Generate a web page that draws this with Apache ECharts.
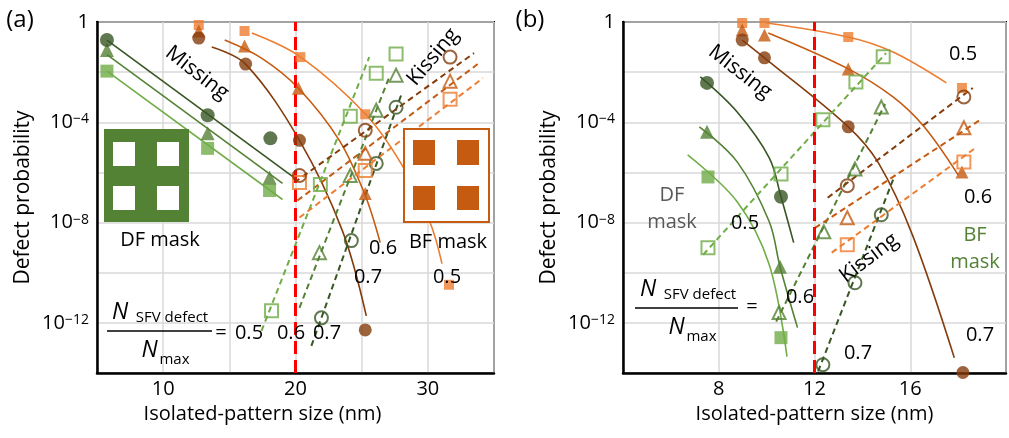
<!DOCTYPE html>
<html><head><meta charset="utf-8">
<script src="https://cdn.jsdelivr.net/npm/echarts/dist/echarts.min.js"></script>
<style>html,body{margin:0;padding:0;background:#fff}#c{width:1009px;height:438px}</style>
</head><body><div id="c"></div>
<script>
// ---- Data (x: isolated-pattern size in nm, y: log10 of defect probability) ----
// Tick labels
const aXTickLabels = [10, 20, 30];
const bXTickLabels = [8, 12, 16];
const yTickExponents = [0, -4, -8, -12];
const ratios = ['0.5', '0.6', '0.7'];
// Critical size (red dashed line)
const aThreshold = [20];
const bThreshold = [12];

// Panel (a) DF mask, missing (markers and straight fits)
const aDfMiss05 = [[5.75,-1.96],[13.36,-5.04],[18.04,-6.72]];
const aDfMiss06 = [[5.75,-1.12],[13.36,-4.44],[18.04,-6.2]];
const aDfMiss07 = [[5.75,-0.72],[13.36,-3.72],[18.1,-4.64]];
const aDfMissFit05 = [[5.75,-1.96],[19.02,-7.08]];
const aDfMissFit06 = [[5.75,-1.3],[19.02,-6.44]];
const aDfMissFit07 = [[5.75,-0.72],[19.77,-6.16]];
// Panel (a) BF mask, missing
const aBfMiss05 = [[12.69,-0.12],[16.15,-0.36],[20.37,-1.4],[25.27,-3.68],[31.6,-10.48]];
const aBfMiss06 = [[12.69,-0.36],[16.15,-0.96],[20.22,-2.64],[25.27,-6.84]];
const aBfMiss07 = [[12.69,-0.64],[16.23,-1.68],[20.3,-4.72],[25.27,-12.28]];
const aBfMissFit05 = [[16.7,-0.44],[20.4,-1.4],[25.3,-3.68],[28.06,-5.72],[30.17,-8.0],[31.07,-9.64]];
const aBfMissFit06 = [[14.65,-0.72],[17.43,-1.44],[20.22,-2.64],[23.31,-4.72],[25.27,-6.92],[26.4,-8.8]];
const aBfMissFit07 = [[13.67,-1.0],[16.23,-1.68],[20.3,-4.72],[23.54,-8.32],[25.35,-11.72]];
// Panel (a) DF mask, kissing
const aDfKiss05 = [[18.19,-11.52],[21.88,-6.48],[24.14,-3.76],[26.1,-2.04],[27.6,-1.28]];
const aDfKiss06 = [[21.81,-9.2],[24.14,-6.12],[26.1,-3.52],[27.6,-2.12]];
const aDfKiss07 = [[21.96,-11.8],[24.22,-8.72],[26.1,-5.64],[27.6,-3.4]];
const aDfKissFit05 = [[17.43,-12.32],[25.57,-1.4]];
const aDfKissFit06 = [[20.3,-11.4],[27.08,-2.2]];
const aDfKissFit07 = [[21.2,-12.92],[27.98,-2.92]];
// Panel (a) BF mask, kissing
const aBfKiss05 = [[20.3,-6.4],[25.27,-5.92],[31.68,-3.08]];
const aBfKiss06 = [[25.27,-5.24],[31.68,-2.36]];
const aBfKiss07 = [[20.3,-6.12],[25.27,-4.32],[31.68,-1.4]];
const aBfKissFit05 = [[20.3,-7.8],[34.16,-2.24]];
const aBfKissFit06 = [[20.15,-7.12],[33.86,-1.64]];
const aBfKissFit07 = [[19.92,-6.4],[33.49,-1.24]];

// Panel (b) DF mask, missing
const bDfMiss05 = [[7.55,-6.18],[10.6,-12.59]];
const bDfMiss06 = [[7.51,-4.38],[10.56,-9.76]];
const bDfMiss07 = [[7.51,-2.43],[10.6,-6.97]];
const bDfMissFit05 = [[6.7,-5.3],[8.77,-7.17],[10.11,-9.68],[10.85,-13.35]];
const bDfMissFit06 = [[7.19,-4.18],[8.77,-5.58],[10.11,-7.97],[10.56,-9.76],[11.29,-12.19]];
const bDfMissFit07 = [[7.23,-2.19],[8.77,-3.59],[10.11,-5.42],[10.6,-6.97],[11.13,-8.8]];
// Panel (b) DF mask, kissing
const bDfKiss05 = [[7.55,-9.0],[10.6,-6.06],[12.35,-3.9],[13.73,-2.39],[14.87,-1.39]];
const bDfKiss06 = [[10.52,-11.59],[12.39,-8.37],[13.69,-5.86],[14.79,-3.39]];
const bDfKiss07 = [[12.35,-13.67],[13.69,-10.4],[14.79,-7.69]];
const bDfKissFit05 = [[7.35,-9.28],[14.99,-1.24]];
const bDfKissFit06 = [[10.4,-11.95],[14.95,-3.27]];
const bDfKissFit07 = [[12.15,-13.94],[15.36,-6.1]];
// Panel (b) BF mask, missing
const bBfMiss05 = [[8.98,-0.04],[9.91,-0.04],[13.41,-0.6],[18.16,-2.63]];
const bBfMiss06 = [[8.98,-0.32],[9.91,-0.52],[13.41,-1.87],[18.16,-5.98]];
const bBfMiss07 = [[8.98,-0.72],[9.91,-1.43],[13.41,-4.18],[18.2,-13.98]];
const bBfMissFit05 = [[9.99,-0.04],[13.41,-0.6],[15.28,-1.2],[17.51,-2.43]];
const bBfMissFit06 = [[10.07,-0.44],[13.41,-1.87],[15.28,-2.99],[16.58,-4.18],[18.0,-6.1]];
const bBfMissFit07 = [[8.98,-0.72],[9.91,-1.43],[13.41,-4.18],[14.67,-5.62],[16.09,-8.49],[17.84,-13.39]];
// Panel (b) BF mask, kissing
const bBfKiss05 = [[13.37,-8.88],[18.24,-5.58]];
const bBfKiss06 = [[13.37,-7.81],[18.24,-4.22]];
const bBfKiss07 = [[13.37,-6.53],[18.24,-2.99]];
const bBfKissFit05 = [[12.72,-9.2],[18.73,-5.02]];
const bBfKissFit06 = [[12.02,-8.21],[18.93,-3.9]];
const bBfKissFit07 = [[12.55,-7.01],[18.61,-2.63]];

// ---- Styles ----
const C = {
  g5:'#70AD47', g6:'#548235', g7:'#375623',
  o5:'#ED7D31', o6:'#C55A11', o7:'#843C0C', red:'#FF0000'
};
const FONT = '"Open Sans", "Noto Sans", sans-serif';

function fitLine(data, gi, color, dashed, smooth) {
  return { type:'line', xAxisIndex:gi, yAxisIndex:gi, data, showSymbol:false, symbol:'none',
    smooth: smooth ? 0.35 : false, silent:true, z:2,
    lineStyle:{ color, width: dashed ? 2 : 1.6, type: dashed ? [6,4] : 'solid' } };
}
function marks(data, gi, symbol, color, filled, size) {
  return { type:'scatter', xAxisIndex:gi, yAxisIndex:gi, data, symbol, symbolSize:size, silent:true, z:4,
    itemStyle: filled ? { color, borderWidth:0 } : { color:'rgba(255,255,255,0)', borderColor:color, borderWidth:2 } };
}
function threshold(vals, gi) {
  return { type:'scatter', xAxisIndex:gi, yAxisIndex:gi, data:[], silent:true,
    markLine:{ silent:true, symbol:'none', label:{show:false}, z:3,
      lineStyle:{ color:C.red, width:3, type:[13,6] },
      data: vals.map(v => ({ xAxis:v })) } };
}
function yLabel(v) {
  if (!yTickExponents.includes(v)) return '';
  if (v === 0) return '{b|1}';
  return '{b|10}{s|\u2212' + Math.abs(v) + '}';
}
function yAxis(gi) {
  return { type:'value', gridIndex:gi, min:-14, max:0, interval:2,
    name:'Defect probability', nameLocation:'middle', nameGap:63,
    nameTextStyle:{ fontFamily:FONT, fontSize:21, color:'#000' },
    axisLine:{ show:true, lineStyle:{ color:'#000', width:2.5 } }, axisTick:{show:false},
    splitLine:{ show:true, lineStyle:{ color:'#D9D9D9', width:1.5 } },
    axisLabel:{ formatter:yLabel, margin:8, color:'#000',
      rich:{ b:{ fontFamily:FONT, fontSize:20, color:'#000' }, s:{ fontFamily:FONT, fontSize:14, color:'#000', verticalAlign:'top' } } } };
}
function xAxis(gi, min, max, interval, labels, padRight) {
  return { type:'value', gridIndex:gi, min, max, interval,
    name:'Isolated-pattern size (nm)', nameLocation:'middle', nameGap:31,
    nameTextStyle:{ fontFamily:FONT, fontSize:20, color:'#000', padding:[0,padRight,0,0] },
    axisLine:{ show:true, onZero:false, lineStyle:{ color:'#000', width:2.5 } }, axisTick:{show:false},
    splitLine:{ show:true, lineStyle:{ color:'#D9D9D9', width:1.5 } },
    axisLabel:{ fontFamily:FONT, fontSize:20, color:'#000', margin:6,
      formatter: v => labels.includes(v) ? String(v) : '' } };
}

const series = [
  threshold(aThreshold, 0), threshold(bThreshold, 1),
  // (a) fits
  fitLine(aDfMissFit05,0,C.g5,false,false), fitLine(aDfMissFit06,0,C.g6,false,false), fitLine(aDfMissFit07,0,C.g7,false,false),
  fitLine(aBfMissFit05,0,C.o5,false,true), fitLine(aBfMissFit06,0,C.o6,false,true), fitLine(aBfMissFit07,0,C.o7,false,true),
  fitLine(aDfKissFit05,0,C.g5,true,false), fitLine(aDfKissFit06,0,C.g6,true,false), fitLine(aDfKissFit07,0,C.g7,true,false),
  fitLine(aBfKissFit05,0,C.o5,true,false), fitLine(aBfKissFit06,0,C.o6,true,false), fitLine(aBfKissFit07,0,C.o7,true,false),
  // (a) markers
  marks(aDfMiss05,0,'rect',C.g5,true,13), marks(aDfMiss06,0,'triangle',C.g6,true,14), marks(aDfMiss07,0,'circle',C.g7,true,14),
  marks(aBfMiss05,0,'rect',C.o5,true,10), marks(aBfMiss06,0,'triangle',C.o6,true,13), marks(aBfMiss07,0,'circle',C.o7,true,13),
  marks(aDfKiss05,0,'rect',C.g5,false,13), marks(aDfKiss06,0,'triangle',C.g6,false,13), marks(aDfKiss07,0,'circle',C.g7,false,13),
  marks(aBfKiss05,0,'rect',C.o5,false,13), marks(aBfKiss06,0,'triangle',C.o6,false,13), marks(aBfKiss07,0,'circle',C.o7,false,13),
  // (b) fits
  fitLine(bDfMissFit05,1,C.g5,false,true), fitLine(bDfMissFit06,1,C.g6,false,true), fitLine(bDfMissFit07,1,C.g7,false,true),
  fitLine(bBfMissFit05,1,C.o5,false,true), fitLine(bBfMissFit06,1,C.o6,false,true), fitLine(bBfMissFit07,1,C.o7,false,true),
  fitLine(bDfKissFit05,1,C.g5,true,false), fitLine(bDfKissFit06,1,C.g6,true,false), fitLine(bDfKissFit07,1,C.g7,true,false),
  fitLine(bBfKissFit05,1,C.o5,true,false), fitLine(bBfKissFit06,1,C.o6,true,false), fitLine(bBfKissFit07,1,C.o7,true,false),
  // (b) markers
  marks(bDfMiss05,1,'rect',C.g5,true,13), marks(bDfMiss06,1,'triangle',C.g6,true,14), marks(bDfMiss07,1,'circle',C.g7,true,14),
  marks(bBfMiss05,1,'rect',C.o5,true,10), marks(bBfMiss06,1,'triangle',C.o6,true,13), marks(bBfMiss07,1,'circle',C.o7,true,13),
  marks(bDfKiss05,1,'rect',C.g5,false,13), marks(bDfKiss06,1,'triangle',C.g6,false,13), marks(bDfKiss07,1,'circle',C.g7,false,13),
  marks(bBfKiss05,1,'rect',C.o5,false,13), marks(bBfKiss06,1,'triangle',C.o6,false,13), marks(bBfKiss07,1,'circle',C.o7,false,13)
];

// ---- Annotations ----
function txt(t, x, y, size, opts) {
  opts = opts || {};
  return { type:'text', x, y, rotation: opts.rot || 0, z:100, silent:true,
    style:{ text:t, fill: opts.color || '#000', align: opts.align || 'center', verticalAlign:'middle',
      font: (opts.italic ? 'italic ' : '') + size + 'px ' + FONT } };
}
function rect(x, y, w, h, fill, stroke, lw) {
  return { type:'rect', z:90, silent:true, shape:{ x, y, width:w, height:h },
    style:{ fill: fill, stroke: stroke || null, lineWidth: lw || 0 } };
}
function fraction(x0, x1, yLine) {
  const cx = (x0 + x1) / 2;
  return [
    { type:'line', z:100, silent:true, shape:{ x1:x0, y1:yLine, x2:x1, y2:yLine }, style:{ stroke:'#000', lineWidth:1.5 } },
    txt('N', x0 + 13, yLine - 19, 23, { italic:true }),
    txt('SFV defect', x0 + 65, yLine - 13, 15),
    txt('N', cx - 10, yLine + 19, 23, { italic:true }),
    txt('max', cx + 15, yLine + 29, 15)
  ];
}
const graphics = [
  txt('(a)', 20, 20, 24), txt('(b)', 530, 20, 24),
  // DF mask icon (a)
  rect(104, 129, 85, 93, C.g6),
  rect(113, 142, 22, 24, '#fff'), rect(157, 142, 22, 24, '#fff'),
  rect(113, 186, 22, 24, '#fff'), rect(157, 186, 22, 24, '#fff'),
  // BF mask icon (a)
  rect(404, 129, 85, 93, '#fff', C.o6, 2),
  rect(413, 140, 22, 25, C.o6), rect(457, 140, 22, 25, C.o6),
  rect(413, 186, 22, 24, C.o6), rect(457, 186, 22, 24, C.o6),
  txt('Missing', 197, 73, 21, { rot:-0.66 }),
  txt('Kissing', 433, 57, 21, { rot:0.87 }),
  txt('DF mask', 160, 240, 20),
  txt('BF mask', 448, 242, 20),
  txt(ratios[1], 383, 248, 20), txt(ratios[2], 368, 277, 20), txt(ratios[0], 447, 277, 20),
  txt('=', 221, 333, 20), txt(ratios[0], 249, 333, 20), txt(ratios[1], 291, 333, 20), txt(ratios[2], 327, 333, 20),
  ...fraction(107, 212, 331),
  // (b)
  txt('Missing', 740, 72, 21, { rot:-0.66 }),
  txt('Kissing', 869, 258, 21, { rot:0.65 }),
  txt('DF', 672, 195, 20, { color:'#595959' }), txt('mask', 672, 222, 20, { color:'#595959' }),
  txt(ratios[0], 745, 223, 20), txt(ratios[1], 800, 297, 20), txt(ratios[2], 858, 353, 20),
  txt(ratios[0], 963, 54, 20), txt(ratios[1], 978, 197, 20), txt(ratios[2], 980, 335, 20),
  txt('BF', 975, 235, 20, { color:C.g6 }), txt('mask', 975, 262, 20, { color:C.g6 }),
  txt('=', 752, 307, 20),
  ...fraction(635, 738, 308)
];

const chart = echarts.init(document.getElementById('c'), null, { renderer:'canvas' });
chart.setOption({
  animation:false,
  backgroundColor:'#fff',
  grid:[
    { left:97, top:22, width:397, height:351, show:true, borderColor:'#000', borderWidth:2, backgroundColor:'transparent' },
    { left:623, top:22, width:394, height:351, show:true, borderColor:'#000', borderWidth:2, backgroundColor:'transparent' }
  ],
  xAxis:[ xAxis(0, 5, 35, 5, aXTickLabels, 66), xAxis(1, 4, 20, 4, bXTickLabels, 0) ],
  yAxis:[ yAxis(0), yAxis(1) ],
  series,
  graphic: graphics
});
</script></body></html>
